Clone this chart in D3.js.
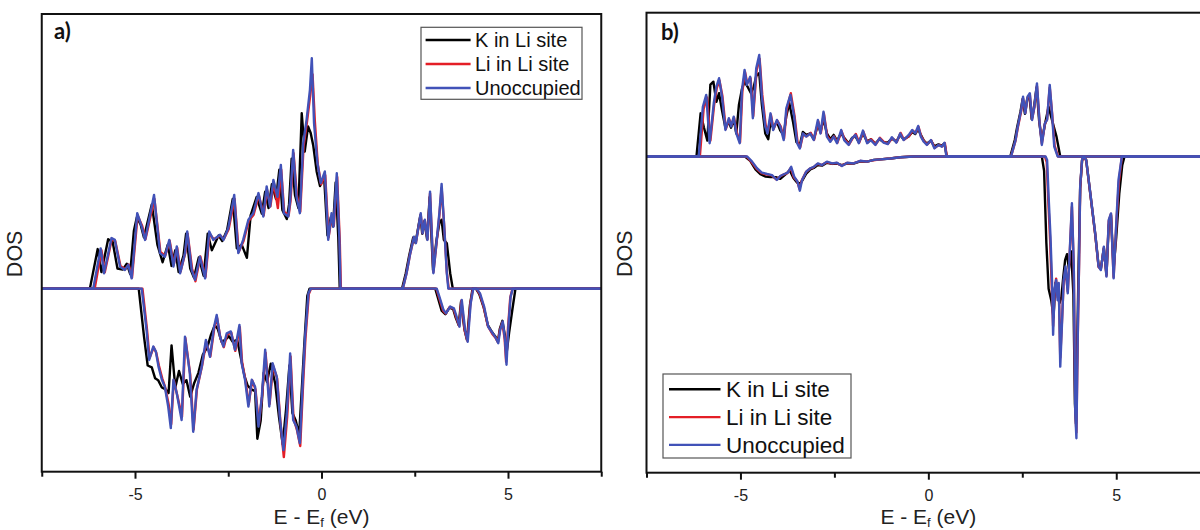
<!DOCTYPE html>
<html>
<head>
<meta charset="utf-8">
<title>DOS - K in Li site / Li in Li site / Unoccupied</title>
<style>
  body { margin: 0; background: #fff; }
  svg { display: block; font-family: "Liberation Sans", Arial, sans-serif; }
</style>
</head>
<body>
<svg id="chart"></svg>
<script src="https://cdn.jsdelivr.net/npm/d3@7/dist/d3.min.js"></script>
<script>

/*========== Data (E - Ef in eV, DOS in arbitrary units) ==========*/

var seriesNames = ['K in Li site', 'Li in Li site', 'Unoccupied'];
var majorTicks = [-5, 0, 5];
var minorTicks = [-7.5, -2.5, 2.5, 7.5];
var energyRange = [-7.5, 7.5];

// ---- panel a), spin up ----
var aUpK = [[-7.5,0],[-6.21,0],[-6.0,1.08],[-5.9,0.45],[-5.72,1.35],[-5.6,1.28],[-5.47,0.55],[-5.33,0.52],[-5.22,0.68],[-5.13,0.40],[-5.03,1.58],[-4.95,1.95],[-4.85,1.75],[-4.76,1.40],[-4.55,2.30],[-4.40,1.20],[-4.26,0.72],[-4.12,1.20],[-4.02,0.62],[-3.92,1.05],[-3.83,0.45],[-3.70,0.90],[-3.63,1.50],[-3.52,0.55],[-3.42,0.30],[-3.29,0.85],[-3.16,0.35],[-3.05,1.50],[-2.94,1.05],[-2.76,1.45],[-2.66,1.30],[-2.53,1.60],[-2.38,2.45],[-2.27,1.10],[-2.14,1.20],[-2.00,0.84],[-1.90,2.00],[-1.74,2.50],[-1.60,2.05],[-1.51,2.65],[-1.42,2.20],[-1.33,2.85],[-1.22,2.45],[-1.13,3.25],[-1.05,2.15],[-0.93,1.90],[-0.87,2.30],[-0.80,3.55],[-0.71,2.55],[-0.62,2.20],[-0.53,4.79],[-0.45,3.74],[-0.36,4.43],[-0.29,4.25],[-0.22,3.90],[-0.13,3.20],[-0.04,2.80],[0.07,3.05],[0.16,1.45],[0.25,1.95],[0.31,1.70],[0.38,2.90],[0.45,1.40],[0.49,0],
  [2.16,0],[2.26,0.42],[2.35,0.90],[2.46,1.40],[2.52,1.25],[2.59,1.65],[2.65,2.00],[2.70,1.50],[2.76,1.85],[2.83,1.35],[2.90,2.50],[2.99,0.50],[3.08,1.30],[3.16,1.79],[3.22,1.88],[3.28,1.33],[3.36,1.24],[3.45,0.42],[3.52,0],[7.5,0]];
var aUpLi = [[-7.5,0],[-6.08,0],[-5.90,1.05],[-5.81,0.45],[-5.62,1.36],[-5.53,1.30],[-5.39,0.62],[-5.26,0.53],[-5.17,0.66],[-5.08,0.30],[-4.93,2.00],[-4.81,1.72],[-4.72,1.35],[-4.48,2.45],[-4.32,1.00],[-4.19,0.90],[-4.07,1.30],[-3.96,0.66],[-3.87,1.12],[-3.78,0.46],[-3.65,0.98],[-3.59,1.50],[-3.47,0.55],[-3.38,0.20],[-3.25,0.88],[-3.11,0.32],[-3.00,1.50],[-2.89,1.35],[-2.71,1.45],[-2.62,1.35],[-2.49,1.62],[-2.33,2.45],[-2.22,1.00],[-2.09,1.30],[-1.95,1.85],[-1.82,2.02],[-1.68,2.55],[-1.55,2.00],[-1.46,2.70],[-1.37,2.25],[-1.28,2.90],[-1.17,2.20],[-1.08,3.25],[-1.00,2.10],[-0.88,2.00],[-0.83,2.40],[-0.75,3.70],[-0.66,2.55],[-0.57,2.10],[-0.48,3.90],[-0.39,4.55],[-0.30,5.30],[-0.24,5.85],[-0.18,4.60],[-0.10,3.40],[-0.01,2.85],[0.10,3.10],[0.19,1.40],[0.28,2.00],[0.33,1.72],[0.42,3.05],[0.49,1.30],[0.52,0],
  [2.18,0],[2.28,0.42],[2.37,0.92],[2.48,1.40],[2.53,1.25],[2.60,1.68],[2.66,2.02],[2.71,1.52],[2.77,1.86],[2.84,1.35],[2.91,2.60],[3.00,0.45],[3.09,1.30],[3.16,2.00],[3.22,2.75],[3.29,1.70],[3.36,0.45],[3.41,0],[7.5,0]];
var aUpVac = [[-7.5,0],[-6.12,0],[-5.92,1.10],[-5.83,0.42],[-5.63,1.38],[-5.54,1.33],[-5.40,0.60],[-5.27,0.51],[-5.18,0.65],[-5.09,0.28],[-4.94,2.06],[-4.82,1.69],[-4.73,1.33],[-4.49,2.56],[-4.33,0.97],[-4.20,0.87],[-4.08,1.33],[-3.97,0.60],[-3.88,1.15],[-3.79,0.42],[-3.66,0.97],[-3.60,1.56],[-3.48,0.51],[-3.39,0.24],[-3.26,0.87],[-3.12,0.28],[-3.01,1.56],[-2.90,1.33],[-2.72,1.47],[-2.63,1.33],[-2.50,1.65],[-2.34,2.56],[-2.23,0.97],[-2.10,1.33],[-1.96,1.88],[-1.83,2.06],[-1.69,2.61],[-1.56,1.97],[-1.47,2.79],[-1.38,2.24],[-1.29,2.97],[-1.18,2.51],[-1.09,3.38],[-1.01,2.06],[-0.89,1.97],[-0.84,2.42],[-0.76,3.79],[-0.67,2.51],[-0.58,2.06],[-0.49,3.97],[-0.40,4.61],[-0.31,5.43],[-0.26,6.29],[-0.20,4.52],[-0.11,3.43],[-0.02,2.88],[0.09,3.20],[0.18,1.33],[0.27,2.06],[0.32,1.69],[0.41,3.15],[0.48,1.33],[0.51,0],
  [2.18,0],[2.28,0.42],[2.37,0.92],[2.48,1.42],[2.53,1.24],[2.60,1.69],[2.66,2.06],[2.71,1.51],[2.77,1.88],[2.84,1.33],[2.91,2.65],[3.00,0.42],[3.09,1.33],[3.16,2.06],[3.22,2.86],[3.29,1.69],[3.36,0.42],[3.40,0],[7.5,0]];

// ---- panel a), spin down ----
var aDnK = [[-7.5,0],[-4.90,0],[-4.76,-1.30],[-4.66,-2.10],[-4.55,-2.15],[-4.46,-2.45],[-4.38,-2.50],[-4.28,-2.70],[-4.18,-2.75],[-4.10,-2.85],[-4.02,-1.55],[-3.92,-2.70],[-3.82,-2.25],[-3.72,-2.60],[-3.62,-2.50],[-3.52,-2.95],[-3.42,-2.60],[-3.30,-2.30],[-3.18,-1.80],[-3.06,-1.60],[-2.96,-1.25],[-2.86,-1.00],[-2.78,-1.10],[-2.68,-1.45],[-2.58,-1.40],[-2.48,-1.30],[-2.38,-1.45],[-2.26,-1.40],[-2.16,-1.90],[-2.06,-2.40],[-1.98,-2.65],[-1.88,-2.75],[-1.78,-2.80],[-1.72,-4.10],[-1.63,-3.60],[-1.55,-2.30],[-1.46,-2.55],[-1.36,-2.05],[-1.24,-2.60],[-1.14,-3.50],[-1.04,-4.25],[-0.95,-3.30],[-0.86,-2.10],[-0.78,-3.40],[-0.69,-3.60],[-0.60,-4.00],[-0.52,-2.60],[-0.46,-1.50],[-0.38,-0.20],[-0.32,0],
  [3.05,0],[3.12,-0.25],[3.22,-0.60],[3.32,-0.70],[3.43,-0.52],[3.53,-0.56],[3.60,-0.80],[3.68,-1.00],[3.74,-0.36],[3.83,-1.10],[3.90,-1.40],[3.98,-0.45],[4.05,0],[4.14,0],[4.23,-0.15],[4.35,-0.52],[4.46,-1.00],[4.58,-1.20],[4.67,-1.32],[4.73,-1.45],[4.78,-1.10],[4.85,-0.88],[4.92,-1.30],[4.97,-1.70],[5.03,-1.20],[5.12,-0.55],[5.20,0],[7.5,0]];
var aDnLi = [[-7.5,0],[-4.80,0],[-4.68,-1.10],[-4.61,-1.90],[-4.50,-1.60],[-4.43,-1.75],[-4.36,-2.10],[-4.27,-2.45],[-4.19,-2.70],[-4.10,-3.15],[-4.03,-3.70],[-3.96,-2.50],[-3.87,-2.90],[-3.74,-3.50],[-3.65,-1.35],[-3.52,-2.35],[-3.43,-3.85],[-3.34,-2.75],[-3.20,-2.10],[-3.09,-1.45],[-2.98,-1.85],[-2.87,-1.05],[-2.80,-0.80],[-2.71,-1.35],[-2.62,-1.60],[-2.53,-1.25],[-2.42,-1.20],[-2.31,-1.70],[-2.19,-1.05],[-2.13,-2.00],[-2.04,-2.50],[-1.95,-3.15],[-1.86,-2.50],[-1.77,-2.75],[-1.68,-3.70],[-1.59,-2.90],[-1.50,-1.75],[-1.39,-3.15],[-1.30,-2.10],[-1.19,-2.45],[-1.10,-3.65],[-1.01,-4.60],[-0.92,-3.50],[-0.83,-1.85],[-0.75,-3.55],[-0.66,-3.85],[-0.57,-4.30],[-0.49,-2.55],[-0.43,-1.35],[-0.34,-0.15],[-0.28,0],
  [3.08,0],[3.15,-0.24],[3.26,-0.60],[3.33,-0.68],[3.44,-0.50],[3.54,-0.55],[3.61,-0.78],[3.69,-1.02],[3.75,-0.33],[3.84,-1.15],[3.91,-1.42],[3.99,-0.42],[4.06,0],[4.15,0],[4.24,-0.14],[4.35,-0.50],[4.46,-1.02],[4.58,-1.24],[4.67,-1.35],[4.73,-1.46],[4.78,-1.15],[4.85,-0.92],[4.91,-1.38],[4.95,-2.00],[5.00,-1.08],[5.06,-0.25],[5.12,0],[7.5,0]];
var aDnVac = [[-7.5,0],[-4.82,0],[-4.69,-1.13],[-4.62,-1.95],[-4.51,-1.58],[-4.44,-1.72],[-4.37,-2.13],[-4.28,-2.49],[-4.20,-2.68],[-4.11,-3.22],[-4.04,-3.81],[-3.97,-2.49],[-3.88,-2.86],[-3.75,-3.59],[-3.66,-1.31],[-3.53,-2.31],[-3.44,-3.91],[-3.35,-2.77],[-3.21,-2.13],[-3.10,-1.40],[-2.99,-1.86],[-2.88,-1.04],[-2.81,-0.72],[-2.72,-1.31],[-2.63,-1.58],[-2.54,-1.22],[-2.43,-1.17],[-2.32,-1.67],[-2.20,-0.99],[-2.14,-2.04],[-2.05,-2.49],[-1.96,-3.22],[-1.87,-2.49],[-1.78,-2.68],[-1.69,-3.77],[-1.60,-2.95],[-1.51,-1.67],[-1.40,-3.22],[-1.31,-2.04],[-1.20,-2.40],[-1.11,-3.59],[-1.02,-4.41],[-0.93,-3.41],[-0.84,-1.77],[-0.76,-3.59],[-0.67,-3.77],[-0.58,-4.22],[-0.50,-2.49],[-0.44,-1.31],[-0.35,-0.13],[-0.29,0],
  [3.09,0],[3.16,-0.22],[3.27,-0.58],[3.34,-0.67],[3.45,-0.49],[3.55,-0.54],[3.62,-0.76],[3.70,-1.04],[3.76,-0.31],[3.85,-1.13],[3.92,-1.45],[4.00,-0.40],[4.07,0],[4.16,0],[4.25,-0.13],[4.36,-0.49],[4.47,-1.04],[4.59,-1.22],[4.68,-1.36],[4.74,-1.49],[4.79,-1.13],[4.86,-0.90],[4.92,-1.40],[4.96,-2.08],[5.01,-1.04],[5.07,-0.22],[5.13,0],[7.5,0]];

// ---- panel b), spin up ----
var bUpK = [[-7.5,0],[-6.17,0],[-6.06,1.50],[-5.97,1.00],[-5.88,0.55],[-5.80,2.50],[-5.72,2.60],[-5.64,1.90],[-5.57,2.20],[-5.49,1.60],[-5.40,1.00],[-5.31,1.20],[-5.25,1.00],[-5.18,1.30],[-5.11,0.80],[-5.04,1.80],[-4.96,2.35],[-4.89,2.60],[-4.80,2.40],[-4.72,2.20],[-4.65,2.40],[-4.58,2.80],[-4.50,2.90],[-4.43,1.80],[-4.34,0.80],[-4.26,0.60],[-4.20,1.20],[-4.13,1.00],[-4.03,1.20],[-3.94,0.90],[-3.85,0.75],[-3.78,1.40],[-3.70,1.85],[-3.60,1.20],[-3.51,0.50],[-3.42,0.40],[-3.34,0.85],[-3.25,0.75],[-3.14,0.80],[-3.05,0.60],[-2.94,1.10],[-2.87,0.85],[-2.79,1.30],[-2.70,0.80],[-2.61,0.60],[-2.52,0.75],[-2.43,0.55],[-2.32,0.80],[-2.24,0.65],[-2.12,0.45],[-2.03,0.65],[-1.94,0.70],[-1.85,0.50],[-1.74,0.80],[-1.63,0.52],[-1.53,0.60],[-1.41,0.45],[-1.30,0.60],[-1.19,0.50],[-1.08,0.48],[-0.97,0.62],[-0.85,0.52],[-0.75,0.75],[-0.66,0.60],[-0.52,0.70],[-0.43,0.85],[-0.35,0.78],[-0.27,0.95],[-0.20,0.75],[-0.12,0.55],[-0.04,0.45],[0.07,0.55],[0.16,0.35],[0.27,0.42],[0.36,0.38],[0.43,0.45],[0.49,0],
  [2.18,0],[2.30,0.57],[2.36,1.00],[2.45,1.55],[2.51,2.00],[2.57,1.48],[2.63,2.00],[2.69,2.10],[2.75,1.30],[2.81,1.70],[2.88,2.40],[2.95,1.20],[3.02,0.55],[3.10,1.10],[3.20,1.73],[3.29,1.27],[3.41,0.69],[3.51,0],[7.5,0]];
var bUpLi = [[-7.5,0],[-6.08,0],[-5.98,1.65],[-5.89,2.05],[-5.80,0.55],[-5.70,1.80],[-5.63,2.38],[-5.56,2.65],[-5.48,2.10],[-5.39,0.95],[-5.30,1.30],[-5.24,1.08],[-5.17,1.35],[-5.10,0.85],[-5.01,0.50],[-4.95,2.25],[-4.88,2.95],[-4.82,2.55],[-4.73,2.72],[-4.66,1.40],[-4.57,3.00],[-4.49,3.40],[-4.42,2.15],[-4.33,1.10],[-4.27,0.85],[-4.19,1.45],[-4.12,0.95],[-4.02,1.25],[-3.93,1.05],[-3.84,0.62],[-3.77,1.62],[-3.66,2.20],[-3.56,1.40],[-3.48,0.50],[-3.41,0.32],[-3.33,0.78],[-3.24,0.70],[-3.13,0.82],[-3.04,0.58],[-2.93,1.22],[-2.86,0.82],[-2.78,1.50],[-2.69,0.70],[-2.60,0.55],[-2.51,0.70],[-2.42,0.48],[-2.31,0.88],[-2.23,0.60],[-2.11,0.42],[-2.02,0.62],[-1.93,0.78],[-1.84,0.48],[-1.73,0.86],[-1.62,0.48],[-1.52,0.60],[-1.40,0.42],[-1.29,0.65],[-1.18,0.50],[-1.07,0.45],[-0.96,0.64],[-0.84,0.50],[-0.74,0.82],[-0.65,0.58],[-0.51,0.72],[-0.42,0.90],[-0.34,0.82],[-0.26,1.02],[-0.19,0.70],[-0.11,0.52],[-0.03,0.42],[0.08,0.55],[0.17,0.30],[0.28,0.40],[0.37,0.35],[0.44,0.46],[0.49,0],
  [2.20,0],[2.32,0.55],[2.38,1.00],[2.47,1.58],[2.52,2.02],[2.58,1.52],[2.64,2.05],[2.70,2.15],[2.76,1.30],[2.82,1.70],[2.89,2.45],[2.96,1.18],[3.02,0.45],[3.10,1.12],[3.16,1.30],[3.23,2.40],[3.29,1.55],[3.36,0.38],[3.45,0],[7.5,0]];
var bUpVac = [[-7.5,0],[-6.11,0],[-6.00,1.73],[-5.91,2.14],[-5.82,0.46],[-5.71,1.85],[-5.64,2.43],[-5.57,2.72],[-5.49,2.08],[-5.40,0.92],[-5.31,1.33],[-5.25,1.04],[-5.18,1.38],[-5.11,0.80],[-5.02,0.46],[-4.96,2.31],[-4.89,3.01],[-4.83,2.49],[-4.74,2.77],[-4.67,1.33],[-4.58,3.07],[-4.50,3.53],[-4.43,2.08],[-4.34,1.04],[-4.28,0.80],[-4.20,1.50],[-4.13,0.92],[-4.03,1.27],[-3.94,1.04],[-3.85,0.57],[-3.78,1.67],[-3.67,2.14],[-3.57,1.38],[-3.49,0.46],[-3.42,0.28],[-3.34,0.80],[-3.25,0.69],[-3.14,0.80],[-3.05,0.57],[-2.94,1.27],[-2.87,0.80],[-2.79,1.56],[-2.70,0.69],[-2.61,0.51],[-2.52,0.69],[-2.43,0.46],[-2.32,0.92],[-2.24,0.57],[-2.12,0.40],[-2.03,0.63],[-1.94,0.75],[-1.85,0.46],[-1.74,0.90],[-1.63,0.46],[-1.53,0.57],[-1.41,0.40],[-1.30,0.63],[-1.19,0.48],[-1.08,0.43],[-0.97,0.67],[-0.85,0.48],[-0.75,0.80],[-0.66,0.57],[-0.52,0.75],[-0.43,0.92],[-0.35,0.80],[-0.27,1.06],[-0.20,0.69],[-0.12,0.51],[-0.04,0.40],[0.07,0.57],[0.16,0.28],[0.27,0.40],[0.36,0.34],[0.43,0.48],[0.48,0],
  [2.20,0],[2.32,0.57],[2.38,1.04],[2.47,1.62],[2.52,2.08],[2.58,1.50],[2.64,2.08],[2.70,2.20],[2.76,1.27],[2.82,1.73],[2.89,2.54],[2.96,1.15],[3.02,0.40],[3.10,1.15],[3.16,1.27],[3.23,2.49],[3.29,1.50],[3.35,0.34],[3.44,0],[7.5,0]];

// ---- panel b), spin down ----
var bDnK = [[-7.5,0],[-4.88,0],[-4.74,-0.15],[-4.60,-0.45],[-4.47,-0.62],[-4.33,-0.70],[-4.20,-0.72],[-4.06,-0.72],[-3.94,-0.78],[-3.80,-0.62],[-3.69,-0.48],[-3.59,-0.75],[-3.50,-0.90],[-3.42,-0.95],[-3.36,-0.85],[-3.25,-0.60],[-3.14,-0.45],[-3.05,-0.40],[-2.94,-0.30],[-2.83,-0.32],[-2.70,-0.22],[-2.56,-0.26],[-2.43,-0.25],[-2.30,-0.30],[-2.16,-0.24],[-1.99,-0.25],[-1.81,-0.17],[-1.63,-0.18],[-1.45,-0.12],[-1.28,-0.10],[-1.01,-0.07],[-0.75,-0.03],[-0.39,0],
  [3.02,0],[3.08,-0.50],[3.14,-3.00],[3.20,-4.60],[3.27,-5.00],[3.33,-5.60],[3.38,-4.40],[3.44,-4.50],[3.49,-5.10],[3.54,-4.90],[3.59,-4.20],[3.64,-3.60],[3.69,-3.40],[3.74,-3.90],[3.80,-3.30],[3.86,-4.80],[3.90,-8.60],[3.93,-9.30],[3.96,-6.60],[4.00,-3.70],[4.04,-1.10],[4.09,-0.15],[4.13,0],[4.20,-0.12],[4.31,-1.30],[4.44,-2.70],[4.53,-3.80],[4.59,-3.90],[4.67,-3.20],[4.74,-4.10],[4.80,-2.40],[4.86,-2.05],[4.93,-3.90],[5.00,-2.80],[5.08,-1.30],[5.16,-0.30],[5.22,0],[7.5,0]];
var bDnLi = [[-7.5,0],[-4.84,0],[-4.70,-0.20],[-4.57,-0.43],[-4.44,-0.58],[-4.30,-0.63],[-4.17,-0.66],[-4.04,-0.80],[-3.95,-0.70],[-3.84,-0.62],[-3.75,-0.58],[-3.66,-0.40],[-3.58,-0.72],[-3.49,-0.86],[-3.43,-1.12],[-3.37,-0.84],[-3.26,-0.55],[-3.15,-0.42],[-3.06,-0.38],[-2.95,-0.26],[-2.84,-0.30],[-2.71,-0.20],[-2.57,-0.25],[-2.44,-0.23],[-2.31,-0.32],[-2.17,-0.23],[-2.00,-0.24],[-1.82,-0.16],[-1.64,-0.18],[-1.46,-0.13],[-1.29,-0.10],[-1.02,-0.07],[-0.76,-0.03],[-0.40,0],
  [3.10,0],[3.15,-0.20],[3.19,-1.50],[3.24,-2.90],[3.28,-4.40],[3.32,-5.90],[3.36,-4.70],[3.40,-4.25],[3.44,-4.90],[3.47,-4.45],[3.51,-7.00],[3.56,-5.60],[3.60,-4.40],[3.65,-3.90],[3.71,-4.70],[3.76,-3.45],[3.82,-1.75],[3.87,-3.90],[3.91,-8.80],[3.94,-9.60],[3.97,-6.70],[4.01,-3.80],[4.04,-1.10],[4.09,-0.14],[4.13,0],[4.20,-0.14],[4.31,-1.30],[4.44,-2.70],[4.53,-3.85],[4.59,-3.92],[4.67,-3.18],[4.74,-4.15],[4.80,-2.25],[4.86,-2.00],[4.93,-4.20],[5.00,-2.40],[5.07,-0.90],[5.15,0],[7.5,0]];
var bDnVac = [[-7.5,0],[-4.82,0],[-4.69,-0.18],[-4.56,-0.41],[-4.43,-0.56],[-4.29,-0.61],[-4.16,-0.65],[-4.03,-0.82],[-3.94,-0.68],[-3.83,-0.61],[-3.74,-0.56],[-3.65,-0.36],[-3.57,-0.70],[-3.48,-0.88],[-3.42,-1.19],[-3.36,-0.82],[-3.25,-0.53],[-3.14,-0.41],[-3.05,-0.36],[-2.94,-0.24],[-2.83,-0.30],[-2.70,-0.18],[-2.56,-0.24],[-2.43,-0.22],[-2.30,-0.33],[-2.16,-0.22],[-1.99,-0.24],[-1.81,-0.15],[-1.63,-0.18],[-1.45,-0.12],[-1.28,-0.10],[-1.01,-0.07],[-0.75,-0.03],[-0.39,0],
  [3.12,0],[3.16,-0.12],[3.20,-1.40],[3.25,-2.79],[3.29,-4.30],[3.32,-6.20],[3.36,-4.60],[3.40,-4.30],[3.44,-5.00],[3.47,-4.40],[3.51,-7.31],[3.56,-5.69],[3.60,-4.30],[3.65,-3.83],[3.71,-4.76],[3.76,-3.37],[3.82,-1.63],[3.87,-3.83],[3.91,-8.93],[3.94,-9.80],[3.97,-6.62],[4.01,-3.72],[4.04,-1.05],[4.09,-0.12],[4.13,0],[4.20,-0.12],[4.31,-1.28],[4.44,-2.67],[4.53,-3.83],[4.59,-3.95],[4.67,-3.14],[4.74,-4.18],[4.80,-2.21],[4.86,-1.98],[4.93,-4.24],[5.00,-2.33],[5.06,-0.82],[5.15,0],[7.5,0]];

/*========== Styles and layout ==========*/

var COLORS = ['#000000', '#e41e26', '#4152b8'];
var LINE_WIDTH = 2.4;

var panels = [
    { letter: 'a)', left: 41.75, right: 601.25, top: 14, bottom: 471.7, yDomain: [-5, 7.5],
      up: [aUpK, aUpLi, aUpVac], down: [aDnK, aDnLi, aDnVac],
      dosX: 22, letterX: 54, letterY: 39,
      legend: { x: 421, y: 27.3, w: 161, h: 72, row: 24, first: 12.7, lineX: 4.6, lineW: 45, textX: 54, font: 20 } },
    { letter: 'b)', left: 646.5, right: 1210.2, top: 12.7, bottom: 472.7, yDomain: [-11, 5],
      up: [bUpK, bUpLi, bUpVac], down: [bDnK, bDnLi, bDnVac],
      dosX: 632, letterX: 661, letterY: 40,
      legend: { x: 663, y: 374, w: 188, h: 84, row: 27.8, first: 15.3, lineX: 6, lineW: 51.5, textX: 63, font: 22.5 } }
];

var svg = d3.select('#chart')
    .attr('width', 1200)
    .attr('height', 530);

/*========== Drawing ==========*/

function drawPanel(p) {
    var g = svg.append('g');

    var x = d3.scaleLinear().domain(energyRange).range([p.left, p.right]);
    var y = d3.scaleLinear().domain(p.yDomain).range([p.bottom, p.top]);

    var dosLine = d3.line()
        .x(d => x(d[0]))
        .y(d => y(d[1]));

    // curves: black first, then red, blue on top
    seriesNames.forEach(function(name, i) {
        [p.up[i], p.down[i]].forEach(function(data) {
            g.append('path')
                .datum(data)
                .attr('d', dosLine)
                .attr('fill', 'none')
                .attr('stroke', COLORS[i])
                .attr('stroke-width', LINE_WIDTH)
                .attr('stroke-linejoin', 'round');
        });
    });

    // frame
    g.append('rect')
        .attr('x', p.left)
        .attr('y', p.top)
        .attr('width', p.right - p.left)
        .attr('height', p.bottom - p.top)
        .attr('fill', 'none')
        .attr('stroke', '#111')
        .attr('stroke-width', 2);

    // x axis: major ticks with labels, minor ticks without
    var major = d3.axisBottom(x)
        .tickValues(majorTicks)
        .tickSize(7)
        .tickSizeOuter(0)
        .tickPadding(10)
        .tickFormat(d => String(d));
    var minor = d3.axisBottom(x)
        .tickValues(minorTicks)
        .tickSize(5)
        .tickSizeOuter(0)
        .tickFormat('');

    [major, minor].forEach(function(ax) {
        var ga = g.append('g')
            .attr('transform', `translate(0, ${p.bottom})`)
            .call(ax);
        ga.select('.domain').remove();
        ga.selectAll('.tick line').attr('stroke', '#111').attr('stroke-width', 2);
        ga.selectAll('.tick text')
            .attr('font-family', '"Liberation Sans", Arial, sans-serif')
            .attr('font-size', 16)
            .attr('fill', '#222');
    });

    // x axis title
    var title = g.append('text')
        .attr('x', x(0))
        .attr('y', 524)
        .attr('text-anchor', 'middle')
        .attr('font-size', 21)
        .attr('fill', '#222');
    title.append('tspan').text('E - E');
    title.append('tspan').attr('font-size', 13).attr('dy', 3).text('f');
    title.append('tspan').attr('dy', -3).text(' (eV)');

    // y axis title
    g.append('text')
        .text('DOS')
        .attr('transform', `translate(${p.dosX}, ${(p.top + p.bottom) / 2 + 11}) rotate(-90)`)
        .attr('text-anchor', 'middle')
        .attr('font-size', 21.5)
        .attr('fill', '#222');

    // panel letter
    g.append('text')
        .text(p.letter)
        .attr('x', p.letterX)
        .attr('y', p.letterY)
        .attr('font-family', 'Lato, "Open Sans", sans-serif')
        .attr('font-weight', 'bold')
        .attr('font-size', 22)
        .attr('fill', '#111');

    // legend
    var L = p.legend;
    var lg = g.append('g').attr('transform', `translate(${L.x}, ${L.y})`);
    lg.append('rect')
        .attr('width', L.w)
        .attr('height', L.h)
        .attr('fill', '#fff')
        .attr('stroke', '#555')
        .attr('stroke-width', 1.2);
    seriesNames.forEach(function(name, i) {
        var yy = L.first + i * L.row;
        lg.append('line')
            .attr('x1', L.lineX)
            .attr('x2', L.lineX + L.lineW)
            .attr('y1', yy)
            .attr('y2', yy)
            .attr('stroke', COLORS[i])
            .attr('stroke-width', LINE_WIDTH);
        lg.append('text')
            .text(name)
            .attr('x', L.textX)
            .attr('y', yy)
            .attr('dy', '0.36em')
            .attr('font-size', L.font)
            .attr('fill', '#111');
    });
}

panels.forEach(drawPanel);

</script>
</body>
</html>
